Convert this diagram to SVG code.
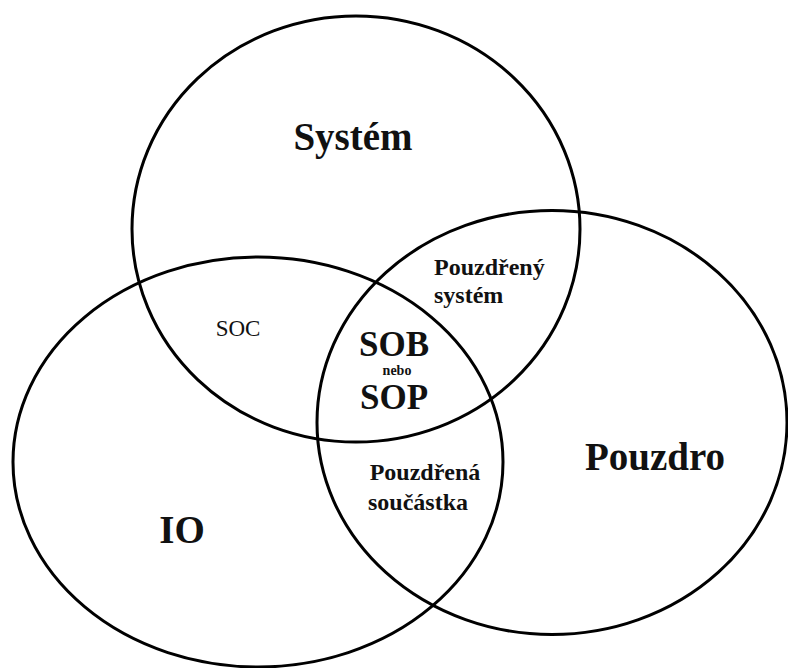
<svg xmlns="http://www.w3.org/2000/svg" width="788" height="668" viewBox="0 0 788 668">
<style>
.set{fill:none;stroke:#000;stroke-width:3}
text{font-family:"Liberation Serif","Times New Roman",serif;fill:#111;font-weight:bold}
.big{font-size:39px;text-anchor:middle}
.mid{font-size:24px}
.sob{font-size:35px;text-anchor:middle}
</style>
<rect width="788" height="668" fill="#fff"/>
<g id="system">
<ellipse class="set" cx="356" cy="229" rx="224" ry="213"/>
<text class="big" x="353" y="150">Systém</text>
</g>
<g id="io">
<ellipse class="set" cx="258" cy="462" rx="245" ry="205"/>
<text class="big" x="182" y="543">IO</text>
</g>
<g id="pouzdro">
<ellipse class="set" cx="552" cy="422.5" rx="235" ry="212"/>
<text class="big" x="655" y="470">Pouzdro</text>
</g>
<g id="soc">
<text x="238" y="336" style="font-size:23px;font-weight:normal;text-anchor:middle">SOC</text>
</g>
<g id="pouzdreny-system">
<text class="mid" x="434" y="275">Pouzdřený</text>
<text class="mid" x="434" y="303">systém</text>
</g>
<g id="sob-sop">
<text class="sob" x="394" y="356">SOB</text>
<text x="397" y="375" style="font-size:14px;text-anchor:middle">nebo</text>
<text class="sob" x="394" y="409">SOP</text>
</g>
<g id="pouzdrena-soucastka">
<text class="mid" x="425" y="480" text-anchor="middle">Pouzdřená</text>
<text class="mid" x="418" y="510" text-anchor="middle">součástka</text>
</g>
<g id="connectors"></g>
</svg>
